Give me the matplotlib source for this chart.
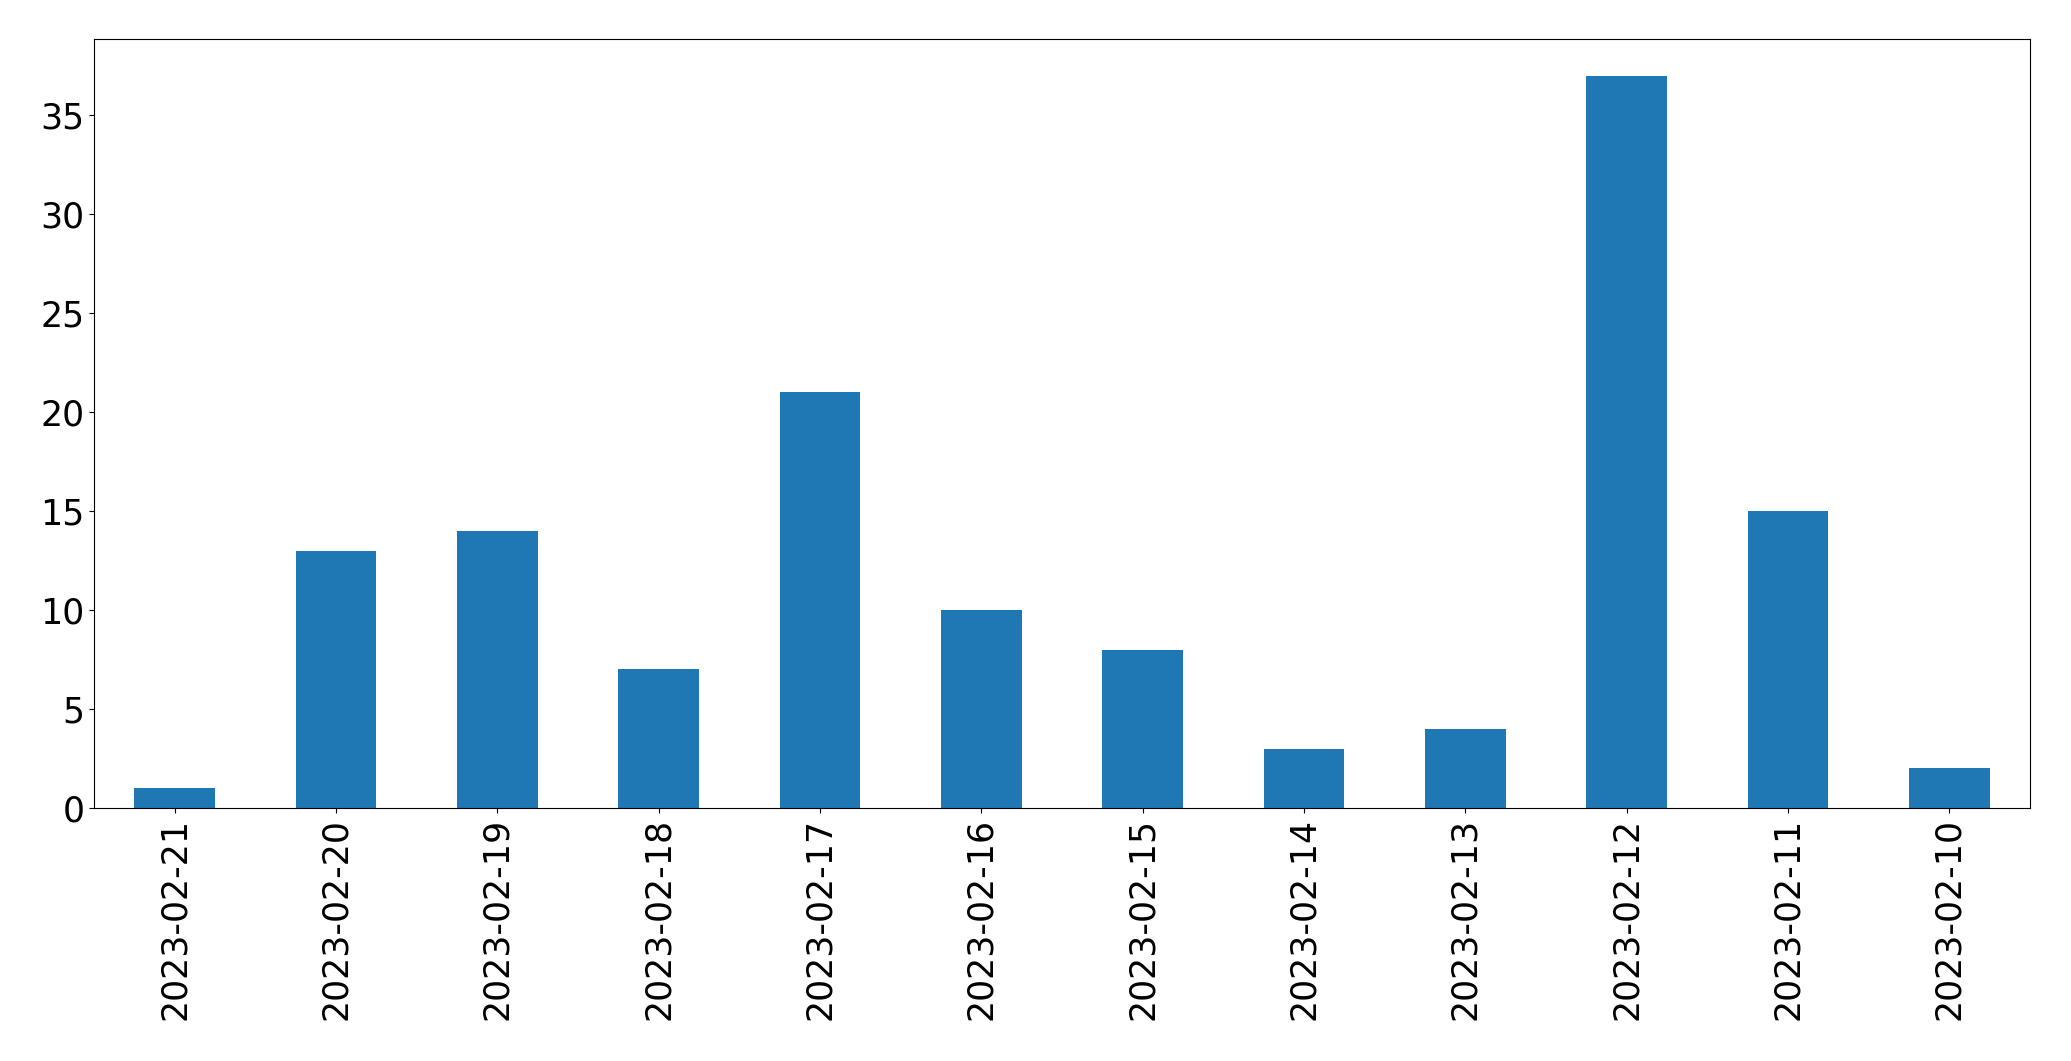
import matplotlib
matplotlib.use("Agg")
import matplotlib.pyplot as plt
import numpy as np

dates = ["2023-02-21", "2023-02-20", "2023-02-19", "2023-02-18", "2023-02-17", "2023-02-16",
         "2023-02-15", "2023-02-14", "2023-02-13", "2023-02-12", "2023-02-11", "2023-02-10"]
counts = [1, 13, 14, 7, 21, 10, 8, 3, 4, 37, 15, 2]

fig = plt.figure(figsize=(20.71, 10.61), dpi=100)
ax = fig.add_axes([94 / 2071, 1 - 808 / 1061, (2030 - 94) / 2071, (808 - 39) / 1061])

x = np.arange(len(dates))
ax.bar(x, counts, width=0.5, color="#1f77b4")
ax.set_xlim(-0.5, len(dates) - 0.5)
ax.set_ylim(0, max(counts) * 1.05)
ax.set_xticks(x)
ax.set_xticklabels(dates, rotation=90)
ax.tick_params(axis="both", labelsize=25)

fig.savefig("out.png", dpi=100)
